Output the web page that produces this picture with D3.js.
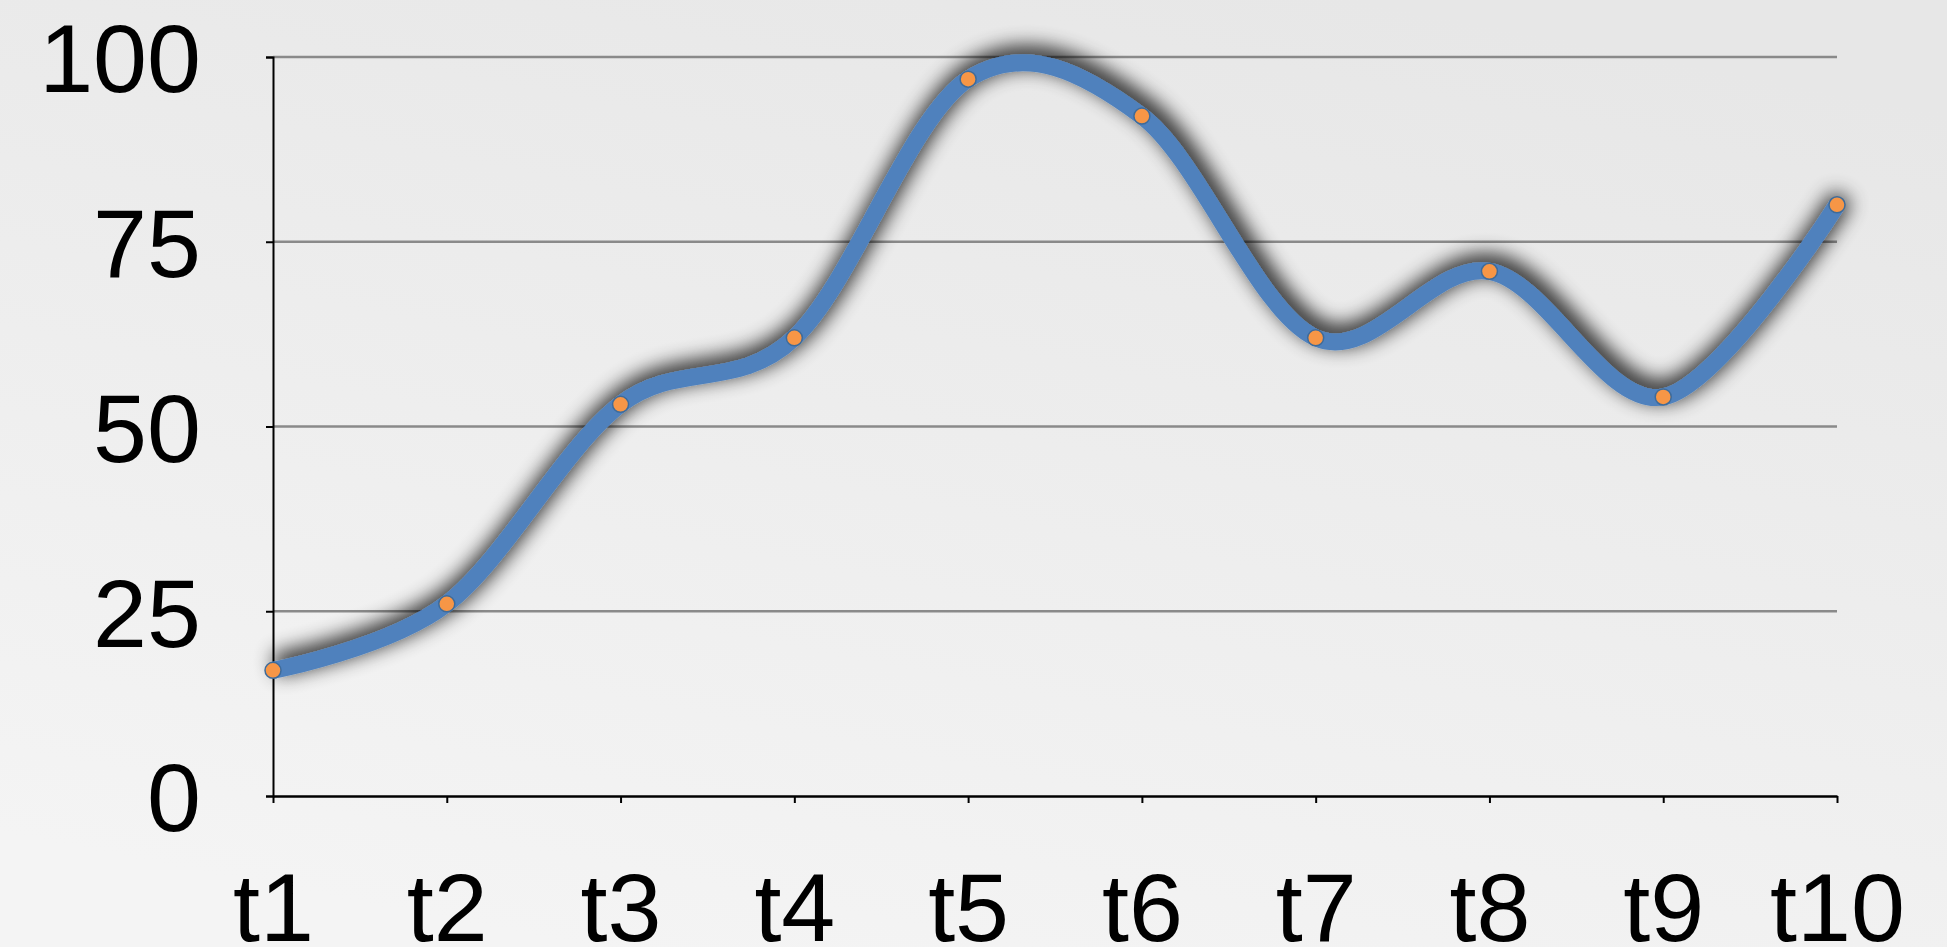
<!DOCTYPE html>
<html>
<head>
<meta charset="utf-8">
<script src="https://cdn.jsdelivr.net/npm/d3@7"></script>
<style>
  html, body { margin: 0; padding: 0; overflow: hidden; }
  svg { display: block; }
</style>
</head>
<body>
<svg id="chart" width="1947" height="947"></svg>
<script>
// Series data
const categories = ["t1", "t2", "t3", "t4", "t5", "t6", "t7", "t8", "t9", "t10"];
const values = [17, 26, 53, 62, 97, 92, 62, 71, 54, 80];
const yTicks = [0, 25, 50, 75, 100];

const W = 1947, H = 947;
const svg = d3.select("#chart");
const defs = svg.append("defs");

// soft grey backdrop
const bg = defs.append("linearGradient").attr("id", "bg")
  .attr("x1", "0.7").attr("y1", "0").attr("x2", "0.3").attr("y2", "1");
bg.append("stop").attr("offset", "0").attr("stop-color", "#e7e7e7");
bg.append("stop").attr("offset", "1").attr("stop-color", "#f4f4f4");
svg.append("rect").attr("width", W).attr("height", H).attr("fill", "url(#bg)");

// drop shadow under the line
const f = defs.append("filter").attr("id", "shadow")
  .attr("x", "-10%").attr("y", "-25%").attr("width", "120%").attr("height", "150%");
f.append("feMorphology").attr("in", "SourceAlpha").attr("operator", "dilate").attr("radius", 2).attr("result", "d");
f.append("feGaussianBlur").attr("in", "d").attr("stdDeviation", 10).attr("result", "b");
f.append("feOffset").attr("in", "b").attr("dx", 4).attr("dy", -6).attr("result", "o");
f.append("feComponentTransfer").attr("in", "o").attr("result", "s")
  .append("feFuncA").attr("type", "linear").attr("slope", 0.85);
const m = f.append("feMerge");
m.append("feMergeNode").attr("in", "s");
m.append("feMergeNode").attr("in", "SourceGraphic");

const plotLeft = 273, plotRight = 1837, plotTop = 57, plotBottom = 796;

const x = d3.scalePoint().domain(categories).range([plotLeft, plotRight]);
const y = d3.scaleLinear().domain([0, 100]).range([plotBottom, plotTop]);

const font = "'Liberation Sans', Arial, sans-serif";

// horizontal gridlines
svg.append("g").selectAll("line").data(yTicks.filter(d => d > 0)).join("line")
  .attr("x1", plotLeft).attr("x2", plotRight)
  .attr("y1", d => y(d)).attr("y2", d => y(d))
  .attr("stroke", "#8a8a8a").attr("stroke-width", 2.5);

// y axis
const yAxis = svg.append("g").attr("transform", `translate(${plotLeft},0)`)
  .call(d3.axisLeft(y).tickValues(yTicks).tickSize(7).tickPadding(72 - 7));
yAxis.select(".domain").attr("stroke", "#000").attr("stroke-width", 2);
yAxis.selectAll(".tick line").attr("stroke", "#000").attr("stroke-width", 2);
yAxis.selectAll(".tick text").attr("font-family", font).attr("font-size", 97)
  .attr("fill", "#000").attr("dy", "0.36em");

// x axis
const xAxis = svg.append("g").attr("transform", `translate(0,${plotBottom})`)
  .call(d3.axisBottom(x).tickSize(7).tickSizeOuter(0).tickPadding(0));
xAxis.select(".domain").attr("stroke", "#000").attr("stroke-width", 2.5);
xAxis.selectAll(".tick line").attr("stroke", "#000").attr("stroke-width", 2);
xAxis.selectAll(".tick text").attr("font-family", font).attr("font-size", 97)
  .attr("fill", "#000").attr("dy", 0).attr("y", 145);

// smoothed series line
const line = d3.line()
  .x((d, i) => x(categories[i]))
  .y(d => y(d))
  .curve(d3.curveCardinal.tension(0));

svg.append("path").datum(values)
  .attr("d", line)
  .attr("fill", "none")
  .attr("stroke", "#4f81bd")
  .attr("stroke-width", 17)
  .attr("stroke-linecap", "butt")
  .attr("filter", "url(#shadow)");

// point markers
svg.append("g").selectAll("circle").data(values).join("circle")
  .attr("cx", (d, i) => x(categories[i]))
  .attr("cy", d => y(d))
  .attr("r", 8)
  .attr("fill", "#f79646")
  .attr("stroke", "#3e6b9a")
  .attr("stroke-width", 1.5);
</script>
</body>
</html>
